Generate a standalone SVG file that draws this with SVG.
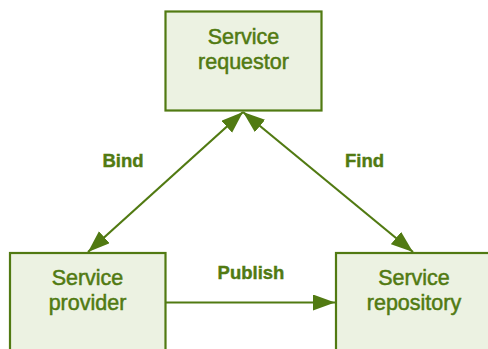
<svg xmlns="http://www.w3.org/2000/svg" width="488" height="349" viewBox="0 0 488 349">
<style>
.box{fill:#ecf2e2;stroke:#517a12;stroke-width:2.2}
.t{font-family:"Liberation Sans",Arial,sans-serif;font-size:21.5px;fill:#517a12;stroke:#517a12;stroke-width:0.5;text-anchor:middle}
.l{font-family:"Liberation Sans",Arial,sans-serif;font-size:18.5px;font-weight:bold;fill:#517a12;stroke:#517a12;stroke-width:0.4;text-anchor:middle}
.c{stroke:#517a12;stroke-width:2.2;fill:none}
</style>
<defs>
<marker id="ah" markerUnits="userSpaceOnUse" markerWidth="24" markerHeight="17" refX="22" refY="8" orient="auto-start-reverse" viewBox="0 0 24 17">
<path d="M0,0 L22,8 L0,16 z" fill="#517a12"/>
</marker>
</defs>
<g id="requestor">
<rect class="box" x="165.5" y="11.5" width="156" height="99"/>
<text class="t" x="243.5" y="44">Service</text>
<text class="t" x="243.5" y="69">requestor</text>
</g>
<g id="provider">
<rect class="box" x="10" y="253" width="155.5" height="110"/>
<text class="t" x="87.5" y="285">Service</text>
<text class="t" x="87.5" y="310">provider</text>
</g>
<g id="repository">
<rect class="box" x="336" y="253" width="160" height="110"/>
<text class="t" x="414" y="285">Service</text>
<text class="t" x="414" y="310">repository</text>
</g>
<g id="connectors">
<path class="c" d="M243,112 L88,252" marker-start="url(#ah)" marker-end="url(#ah)"/>
<path class="c" d="M243,112 L413,252" marker-start="url(#ah)" marker-end="url(#ah)"/>
<path class="c" d="M166,302.5 L335,302.5" marker-end="url(#ah)"/>
<text class="l" x="123" y="166.5">Bind</text>
<text class="l" x="364.5" y="166.5">Find</text>
<text class="l" x="251" y="279">Publish</text>
</g>
</svg>
